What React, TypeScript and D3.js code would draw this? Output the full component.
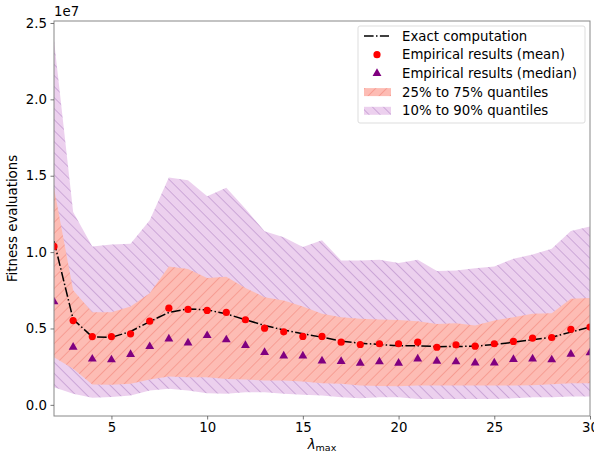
import React, { useEffect, useRef } from 'react';
import * as d3 from 'd3';

// lambda_max values and results (in units of 1e7)
const lambdas = d3.range(2, 31);
const exact = [1.072, 0.56, 0.445, 0.442, 0.48, 0.545, 0.605, 0.628, 0.622, 0.596, 0.557, 0.52, 0.49, 0.465, 0.443, 0.417, 0.404, 0.395, 0.387, 0.387, 0.381, 0.382, 0.384, 0.395, 0.41, 0.426, 0.443, 0.476, 0.509];
const means = [1.037, 0.552, 0.447, 0.447, 0.465, 0.548, 0.633, 0.625, 0.618, 0.605, 0.557, 0.502, 0.478, 0.448, 0.448, 0.41, 0.395, 0.4, 0.4, 0.41, 0.377, 0.393, 0.384, 0.4, 0.415, 0.437, 0.441, 0.495, 0.509];
const medians = [0.675, 0.378, 0.3, 0.295, 0.33, 0.382, 0.432, 0.406, 0.454, 0.426, 0.389, 0.343, 0.321, 0.321, 0.288, 0.284, 0.273, 0.282, 0.273, 0.301, 0.286, 0.282, 0.275, 0.275, 0.297, 0.301, 0.295, 0.332, 0.341];
const q25 = [0.312, 0.236, 0.133, 0.131, 0.138, 0.166, 0.185, 0.181, 0.18, 0.17, 0.166, 0.159, 0.159, 0.153, 0.142, 0.138, 0.126, 0.124, 0.122, 0.126, 0.126, 0.126, 0.126, 0.126, 0.126, 0.128, 0.135, 0.142, 0.142];
const q75 = [1.42, 0.75, 0.607, 0.607, 0.644, 0.73, 0.905, 0.89, 0.83, 0.838, 0.765, 0.705, 0.683, 0.644, 0.596, 0.574, 0.563, 0.559, 0.556, 0.548, 0.53, 0.535, 0.52, 0.552, 0.574, 0.596, 0.6, 0.695, 0.7];
const q10 = [0.115, 0.072, 0.046, 0.052, 0.061, 0.094, 0.105, 0.094, 0.076, 0.072, 0.083, 0.083, 0.072, 0.066, 0.061, 0.05, 0.043, 0.05, 0.05, 0.039, 0.039, 0.039, 0.039, 0.039, 0.043, 0.05, 0.05, 0.054, 0.054];
const q90 = [2.387, 1.262, 1.037, 1.05, 1.055, 1.208, 1.488, 1.47, 1.365, 1.422, 1.284, 1.136, 1.098, 1.033, 1.077, 0.945, 0.945, 0.95, 0.928, 0.95, 0.876, 0.88, 0.895, 0.906, 0.957, 0.985, 1.022, 1.138, 1.168];

const xTicks = [5, 10, 15, 20, 25, 30];
const yTicks = [0, 0.5, 1.0, 1.5, 2.0, 2.5];

const legendItems = ['Exact computation', 'Empirical results (mean)', 'Empirical results (median)', '25% to 75% quantiles', '10% to 90% quantiles'];

const W = 594, H = 456;
const left = 54, right = 590, top = 21, bottom = 416;
const FONT = 'DejaVu Sans, sans-serif';
const FS = 13.3;

export default function App() {
  const xAxisRef = useRef<SVGGElement>(null);
  const yAxisRef = useRef<SVGGElement>(null);

  const x = d3.scaleLinear().domain([2, 30]).range([left, right]);
  const y = d3.scaleLinear().domain([-0.073, 2.513]).range([bottom, top]);

  useEffect(() => {
    const xa = d3.axisBottom(x).tickValues(xTicks).tickSize(3.5).tickPadding(3.5).tickFormat(d3.format('d'));
    const ya = d3.axisLeft(y).tickValues(yTicks).tickSize(3.5).tickPadding(3.5).tickFormat(d3.format('.1f'));
    const gx = d3.select(xAxisRef.current!).call(xa as any);
    const gy = d3.select(yAxisRef.current!).call(ya as any);
    [gx, gy].forEach((g) => {
      g.select('.domain').remove();
      g.selectAll('line').attr('stroke', '#555').attr('stroke-width', 0.8);
      g.selectAll('text').attr('fill', '#000').style('font-size', FS + 'px').style('font-family', FONT);
    });
  }, []);

  const band = (lo: number[], hi: number[]) =>
    d3.area<number>()
      .x((d) => x(d))
      .y0((_, i) => y(lo[i]))
      .y1((_, i) => y(hi[i]))(lambdas) || '';

  const line = d3.line<number>().x((d) => x(d)).y((_, i) => y(exact[i]))(lambdas) || '';

  const tri = d3.symbol().type(d3.symbolTriangle).size(34)() || '';

  const lx = 358, ly = 26, lw = 227, lh = 97;
  const rowY = (i: number) => 36 + i * 18.7;

  return (
    <svg width={W} height={H} style={{ position: 'absolute', left: 0, top: 0 }}>
      <defs>
        <pattern id="hatchRed" patternUnits="userSpaceOnUse" width="7.8" height="7.8" patternTransform="rotate(45)">
          <rect width="7.8" height="7.8" fill="#fdbcb4" />
          <line x1="0" y1="0" x2="0" y2="7.8" stroke="#f4857a" strokeWidth="1.1" />
        </pattern>
        <pattern id="hatchPurple" patternUnits="userSpaceOnUse" width="7.8" height="7.8" patternTransform="rotate(-45)">
          <rect width="7.8" height="7.8" fill="#ecd0ee" />
          <line x1="0" y1="0" x2="0" y2="7.8" stroke="#b185c6" strokeWidth="1.1" />
        </pattern>
        <clipPath id="plotClip">
          <rect x={left} y={top} width={right - left} height={bottom - top} />
        </clipPath>
      </defs>
      <rect width={W} height={H} fill="#fff" />
      <g clipPath="url(#plotClip)">
        <path d={band(q10, q90)} fill="url(#hatchPurple)" />
        <path d={band(q25, q75)} fill="url(#hatchRed)" />
        <path d={line} fill="none" stroke="#000" strokeWidth={1.5} strokeDasharray="9.6,2.4,1.5,2.4" />
        {lambdas.map((l, i) => (
          <circle key={'m' + l} cx={x(l)} cy={y(means[i])} r={3.6} fill="#ff0000" />
        ))}
        {lambdas.map((l, i) => (
          <path key={'d' + l} d={tri} transform={`translate(${x(l)},${y(medians[i])})`} fill="#800080" />
        ))}
      </g>
      <rect x={left} y={top} width={right - left} height={bottom - top} fill="none" stroke="#888" strokeWidth={1} />
      <g ref={xAxisRef} transform={`translate(0,${bottom})`} />
      <g ref={yAxisRef} transform={`translate(${left},0)`} />
      <text x={left} y={16} fontFamily={FONT} fontSize={FS} fill="#000">1e7</text>
      <text transform={`translate(17,${(top + bottom) / 2}) rotate(-90)`} textAnchor="middle" fontFamily={FONT} fontSize={FS} fill="#000">Fitness evaluations</text>
      <text x={(left + right) / 2} y={449} textAnchor="middle" fontFamily={FONT} fontSize={FS} fill="#000">
        <tspan fontStyle="italic">λ</tspan>
        <tspan fontSize={9.5} dy={2}>max</tspan>
      </text>

      <g>
        <rect x={lx} y={ly} width={lw} height={lh} rx={2} fill="#fff" fillOpacity={0.85} stroke="#ddd" />
        <line x1={364} x2={389} y1={rowY(0)} y2={rowY(0)} stroke="#000" strokeWidth={1.5} strokeDasharray="9.6,2.4,1.5,2.4" />
        <circle cx={377} cy={rowY(1)} r={3.6} fill="#ff0000" />
        <path d={tri} transform={`translate(377,${rowY(2)})`} fill="#800080" />
        <rect x={364} y={rowY(3) - 4} width={27} height={8} fill="url(#hatchRed)" />
        <rect x={364} y={rowY(4) - 4} width={27} height={8} fill="url(#hatchPurple)" />
        {legendItems.map((t, i) => (
          <text key={t} x={402} y={rowY(i) + 4.5} fontFamily={FONT} fontSize={FS} fill="#000">{t}</text>
        ))}
      </g>
    </svg>
  );
}
